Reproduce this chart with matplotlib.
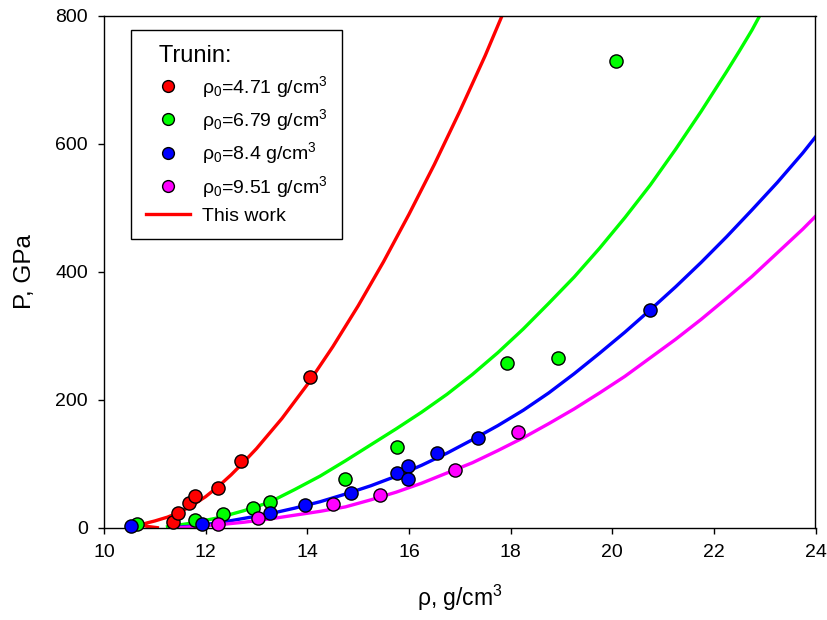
import matplotlib
matplotlib.use("Agg")
import matplotlib.pyplot as plt
from matplotlib.lines import Line2D

plt.rcParams['font.family'] = ['Liberation Sans', 'DejaVu Sans']
plt.rcParams['mathtext.default'] = 'regular'

# --- Experimental data (Trunin) ---
red_x = [11.35, 11.45, 11.68, 11.79, 12.25, 12.70, 14.06]
red_p = [10, 24, 39, 50, 62, 105, 236]

green_x = [10.64, 11.79, 12.35, 12.94, 13.27, 14.74, 15.76, 17.93, 18.94, 20.07]
green_p = [6, 12, 22, 31, 40, 76, 126, 258, 265, 730]

blue_x = [10.54, 11.92, 13.27, 13.96, 14.86, 15.76, 15.99, 15.99, 16.56, 17.35, 20.75]
blue_p = [3, 7, 24, 36, 55, 86, 97, 77, 117, 141, 341]

mag_x = [12.25, 13.04, 14.51, 15.43, 16.90, 18.14]
mag_p = [7, 15, 37, 51, 91, 150]

# --- Calculated curves (This work) ---
red_cx = [11.05, 10.85, 10.72, 10.85, 11.0, 11.25, 11.5, 11.75, 12.0, 12.25, 12.5, 12.75,
          13.0, 13.5, 14.0, 14.5, 15.0, 15.5, 16.0, 16.5, 17.0, 17.5, 17.83]
red_cp = [0.5, 2.5, 5, 8, 11, 17, 25, 36, 49, 65, 83, 103,
          124, 171, 224, 283, 347, 416, 490, 568, 651, 738, 800]

green_cx = [11.25, 11.75, 12.25, 12.75, 13.25, 13.75, 14.25, 14.75, 15.25, 15.75, 16.25,
            16.75, 17.25, 17.75, 18.25, 18.75, 19.25, 19.75, 20.25, 20.75, 21.25, 21.75,
            22.25, 22.5, 22.75, 22.9]
green_cp = [2, 8, 16, 27, 40, 60, 81, 105, 130, 155, 181,
            209, 240, 274, 311, 351, 392, 437, 485, 536, 592, 651,
            713, 745, 778, 800]

blue_cx = [11.36, 11.75, 12.25, 12.75, 13.25, 13.75, 14.25, 14.75, 15.25, 15.75, 16.25,
           16.75, 17.25, 17.75, 18.25, 18.75, 19.25, 19.75, 20.25, 20.75, 21.25, 21.75,
           22.25, 22.75, 23.25, 23.75, 24.0]
blue_cp = [0.5, 3, 8, 15, 22, 31, 41, 53, 66, 81, 98,
           117, 138, 160, 184, 211, 241, 273, 306, 341, 377, 415,
           455, 497, 540, 586, 611]

mag_cx = [11.40, 11.75, 12.25, 12.75, 13.25, 13.75, 14.25, 14.75, 15.25, 15.75, 16.25,
          16.75, 17.25, 17.75, 18.25, 18.75, 19.25, 19.75, 20.25, 20.75, 21.25, 21.75,
          22.25, 22.75, 23.25, 23.75, 24.0]
mag_cp = [0, 2, 5, 9, 14, 20, 26, 33, 44, 56, 70,
          86, 102, 121, 141, 163, 186, 211, 237, 266, 295, 326,
          359, 393, 430, 467, 487]

fig = plt.figure(figsize=(8.28, 6.20), dpi=100)
ax = fig.add_axes([104/828, 1-528/620, (815.5-104)/828, (528-16)/620])

lw = 2.4
ax.plot(red_cx, red_cp, color='#ff0000', lw=lw, zorder=2, solid_joinstyle='round')
ax.plot(green_cx, green_cp, color='#00ff00', lw=lw, zorder=2, solid_joinstyle='round')
ax.plot(blue_cx, blue_cp, color='#0000ff', lw=lw, zorder=2, solid_joinstyle='round')
ax.plot(mag_cx, mag_cp, color='#ff00ff', lw=lw, zorder=2, solid_joinstyle='round')

ms = 9.5
for xs, ps, c in [(red_x, red_p, '#ff0000'), (green_x, green_p, '#00ff00'),
                  (blue_x, blue_p, '#0000ff'), (mag_x, mag_p, '#ff00ff')]:
    ax.plot(xs, ps, 'o', color=c, ms=ms, mec='black', mew=1.0, ls='none', zorder=3, clip_on=False)

ax.set_xlim(10, 24)
ax.set_ylim(0, 800)
ax.set_xticks([10, 12, 14, 16, 18, 20, 22, 24])
ax.set_yticks([0, 200, 400, 600, 800])
ax.tick_params(direction='out', length=4.5, width=1, labelsize=14, pad=7, top=False, right=False)
for s in ax.spines.values():
    s.set_linewidth(1.0)

ax.set_xlabel(r'ρ, g/cm$^3$', fontsize=16.5, labelpad=16)
ax.set_ylabel('P, GPa', fontsize=17.5, labelpad=14)

handles = [
    Line2D([], [], ls='none', marker='o', color='#ff0000', mec='black', mew=1.0, ms=8.5),
    Line2D([], [], ls='none', marker='o', color='#00ff00', mec='black', mew=1.0, ms=8.5),
    Line2D([], [], ls='none', marker='o', color='#0000ff', mec='black', mew=1.0, ms=8.5),
    Line2D([], [], ls='none', marker='o', color='#ff00ff', mec='black', mew=1.0, ms=8.5),
    Line2D([], [], color='#ff0000', lw=lw),
]
labels = [r'$ρ_0$=4.71 g/cm$^3$', r'$ρ_0$=6.79 g/cm$^3$', r'$ρ_0$=8.4 g/cm$^3$',
          r'$ρ_0$=9.51 g/cm$^3$', 'This work']
leg = ax.legend(handles, labels, title='  Trunin:', loc='upper left',
                bbox_to_anchor=((131-104)/(815.5-104), 1-(30-16)/(528-16)),
                borderaxespad=0,
                fontsize=14, title_fontsize=17, frameon=True, fancybox=False,
                edgecolor='black', framealpha=1, borderpad=0.75, labelspacing=0.38,
                handlelength=2.3, handletextpad=0.6, alignment='left')
leg.get_frame().set_linewidth(1.0)
leg.set_zorder(5)

fig.savefig('out.png', dpi=100)
